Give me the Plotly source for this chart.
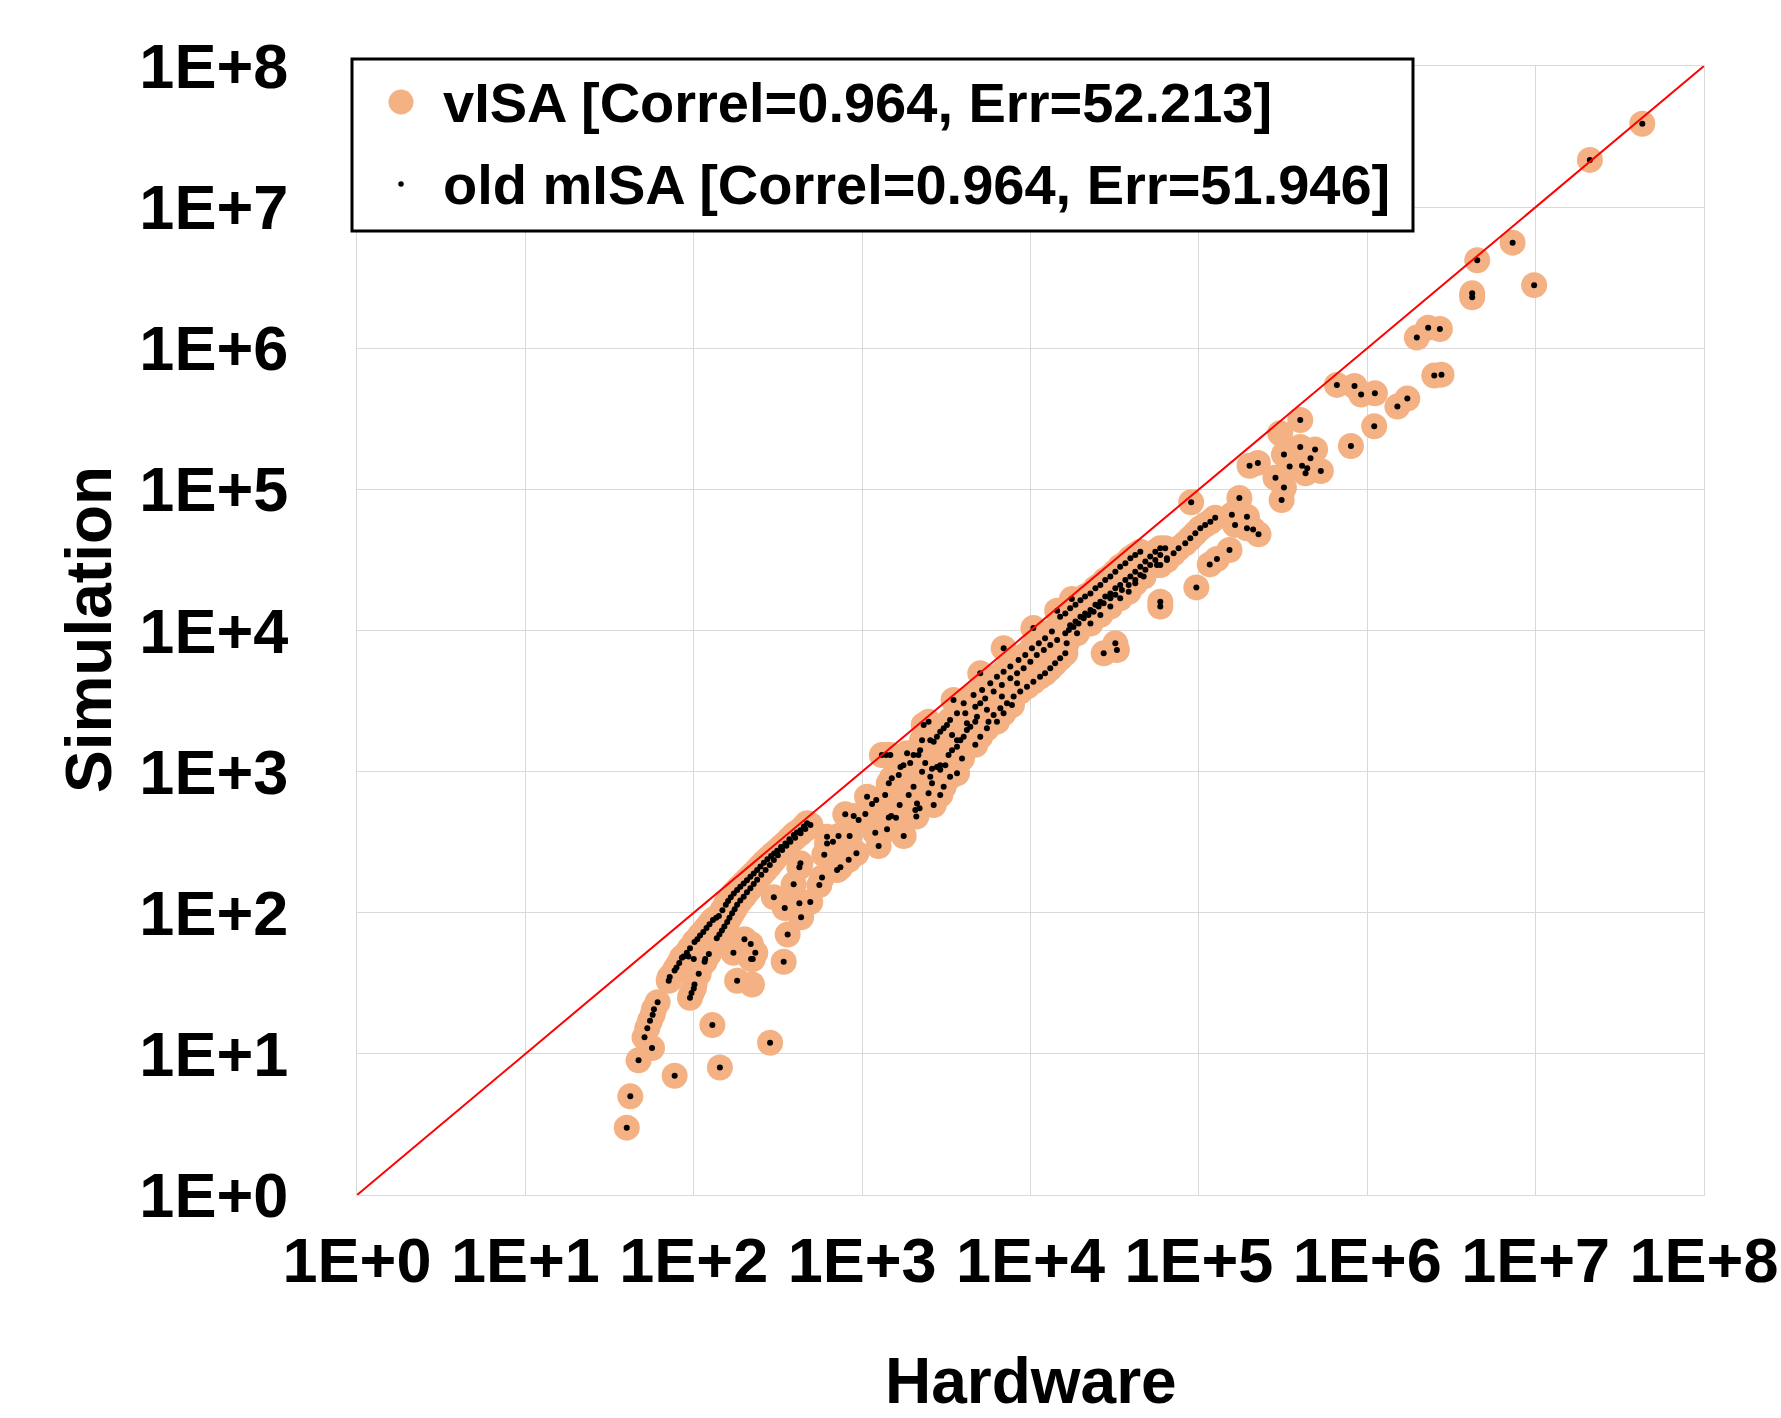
import plotly.graph_objects as go

# ---------------- data (Hardware cycles, Simulation cycles) ----------------
# points below 1E+3 hardware cycles
low_pts = [
    (40, 3.0), (42, 5.0), (47, 9.0), (77, 7.0), (56.5, 11), (51, 13.1), (53, 15.2), (55, 17.2),
    (57, 18.9), (58, 20.7), (61, 23.2), (129, 16), (143, 8.0), (284, 12), (342, 45), (181, 33),
    (172, 52), (200, 65), (218, 60), (232, 52), (219, 47), (224, 47),
    (95, 25), (97, 27), (100, 29), (101, 31), (107, 37), (116, 45), (117, 47), (123, 51),
    (100, 47), (93, 49), (87, 49), (91, 50),
    (71, 33), (72, 35), (77, 39), (79, 41), (82, 44), (85, 48), (91, 52), (95, 56), (101, 62),
    (105, 65), (109, 69), (114, 73), (119, 78), (124, 83), (130, 89), (136, 92), (141, 95),
    (148, 104), (155, 114), (160, 121), (166, 129), (173, 137), (181, 145), (189, 153),
    (198, 161), (207, 170), (217, 180), (227, 190), (238, 201), (249, 213), (261, 226),
    (274, 239), (288, 252), (300, 263), (313, 275), (330, 292), (350, 310), (370, 332),
    (393, 356), (410, 370), (431, 385), (451, 408), (471, 431),
    (137, 66), (142, 70), (147, 75), (152, 80), (158, 86), (163, 92), (169, 99), (175, 106),
    (181, 114), (189, 122), (198, 130), (207, 140), (217, 149), (227, 160), (238, 171),
    (252, 186), (267, 201), (283, 218), (299, 236), (316, 256), (335, 278), (355, 298),
    (375, 318), (400, 340), (431, 366), (460, 392), (493, 419),
    (299, 129), (347, 108), (424, 117), (492, 119), (434, 93), (361, 70), (392, 159),
    (424, 210), (430, 224), (557, 157), (578, 178), (596, 258), (619, 310), (619, 346),
    (671, 318), (724, 350), (843, 350), (710, 201), (743, 210), (832, 237), (925, 264),
    (794, 498), (891, 484), (953, 454),
]

# points between 1E+3 and 1E+4 hardware cycles
mid_pts = [
    (1045, 500), (1146, 589), (1213, 630), (1197, 369), (1253, 297),
    (1406, 390), (1439, 474), (1489, 484), (1589, 471), (1671, 580), (1766, 350),
    (2118, 595), (2193, 550), (2661, 580), (2070, 535), (2099, 480),
    (1310, 1310), (1390, 1310), (1470, 1310),
    (6320, 2260), (4190, 2200), (3660, 2590), (3490, 3220), (3330, 2320), (3190, 2140),
    (3050, 2030), (2910, 1920), (2780, 1770), (2660, 1630), (2540, 1670), (2320, 2140),
    (2480, 2260), (2270, 1670), (2210, 1420), (2160, 1310), (2020, 1310), (1930, 1150),
    (1760, 1110), (1690, 1080), (1850, 1350), (1650, 946), (1500, 897), (1440, 826),
    (1370, 684), (1070, 665), (1890, 684), (2020, 782), (2270, 998), (2370, 1150),
    (2600, 1050), (2540, 920), (2600, 826), (2480, 702), (2910, 684), (3050, 782),
    (2910, 1110), (3120, 1110), (3260, 1310), (3420, 1420), (3660, 1500), (3830, 1670),
    (4010, 1770), (4190, 1970), (4390, 2080), (4700, 2260), (3920, 1240), (3330, 920),
    (3660, 973), (4700, 1550), (5030, 1770), (5510, 2030), (5630, 2260), (2910, 1030),
    (2780, 1080), (3420, 1820), (3660, 1670),
    (4010, 3050), (4590, 3490), (5160, 3790), (5770, 4230), (6320, 4710), (6920, 5110),
    (7590, 5550), (8490, 6180), (9310, 6700),
    (4100, 2590), (4700, 2880), (5380, 3300), (6040, 3690), (6760, 4110), (7590, 4580),
    (8320, 4970), (9100, 5400), (9980, 6010),
    (9530, 4000), (8690, 3690), (7940, 3400), (7250, 3050), (6620, 2810), (6040, 2520),
    (5030, 3050), (5510, 2740), (4810, 2450), (6920, 2590), (7760, 2960), (6760, 3400),
    (8320, 4230), (5030, 4970), (6930, 7480),
]

# points between 1E+4 and 1E+5 hardware cycles
band_pts = [
    (10200, 7480), (11200, 8110), (12200, 8810), (13400, 9820),
    (10900, 6700), (12000, 7280), (13100, 7890), (14400, 8570),
    (10400, 4340), (11400, 4710), (12200, 4980), (13100, 5400), (14000, 5850),
    (15000, 6350), (16100, 6890), (16400, 8110),
    (10400, 10400), (14400, 13800), (17600, 16700),
    (27200, 6890), (31900, 8110), (32600, 7280),
    (95300, 48800), (88900, 45000), (83000, 41500), (75800, 38200), (70800, 35200),
    (64600, 31600), (59000, 29100),
    (44900, 36200), (41900, 34300), (39200, 32500), (36600, 29900), (34100, 28300),
    (31900, 26100), (29800, 24100), (27800, 22800), (26000, 21000), (24300, 19900),
    (22700, 18300), (21100, 17400), (19800, 16400), (18500, 15200), (17200, 14400),
    (16100, 13200), (15000, 12500),
    (59000, 38200), (55100, 36200), (51400, 33400), (48100, 30800), (44900, 28300),
    (41900, 26100), (39200, 24100), (36600, 22800), (34100, 21000), (31900, 19900),
    (29800, 18300), (27800, 17400), (26000, 16000), (24300, 15200), (22700, 14000),
    (21100, 13200), (19800, 12500), (18500, 11600), (17200, 10900),
    (63100, 38200), (59000, 34300), (55100, 31600), (51400, 29100), (48100, 26900),
    (44900, 24700), (41900, 22800), (38300, 21000), (34900, 19400), (31900, 17900),
    (29800, 16900), (27200, 15600), (25400, 14800), (23700, 13600), (22100, 12900),
    (20700, 12200), (19300, 11200), (18000, 10600), (16900, 10100), (16100, 9550),
    (64600, 32500), (56400, 29100), (47000, 24100), (41900, 21600), (38300, 18800),
    (34100, 16900), (29800, 14800), (26000, 12900), (22700, 11200), (18900, 9550),
    (59000, 16000), (59000, 14800), (96600, 20200), (90000, 81000),
]

# points above 1E+5 hardware cycles
high_pts = [
    (4.3e7, 3.9e7), (2.1e7, 2.16e7), (7.3e6, 5.6e6), (4.5e6, 4.2e6), (9.8e6, 2.8e6),
    (4.2e6, 2.45e6), (4.2e6, 2.3e6), (2.3e6, 1.4e6), (2.7e6, 1.37e6), (1.97e6, 1.19e6),
    (2.5e6, 6.4e5), (2.76e6, 6.5e5), (6.6e5, 5.5e5), (8.4e5, 5.4e5), (9.2e5, 4.7e5),
    (1.11e6, 4.8e5), (1.73e6, 4.4e5), (1.51e6, 3.86e5), (1.1e6, 2.8e5), (8.0e5, 2.03e5),
    (4.0e5, 3.1e5), (4.0e5, 2.0e5), (4.9e5, 1.92e5), (3.2e5, 1.77e5), (2.0e5, 1.47e5),
    (2.24e5, 1.54e5), (3.46e5, 1.45e5), (4.1e5, 1.47e5), (4.6e5, 1.66e5), (4.4e5, 1.41e5),
    (4.3e5, 1.3e5), (5.3e5, 1.35e5), (2.85e5, 1.21e5), (3.2e5, 1.03e5), (3.1e5, 8.4e4),
    (1.74e5, 8.7e4), (1.57e5, 6.6e4), (1.64e5, 5.6e4), (1.93e5, 6.4e4), (1.93e5, 5.3e4),
    (2.1e5, 5.2e4), (2.26e5, 4.8e4), (1.25e5, 6.3e4), (1.17e5, 5.9e4), (1.09e5, 5.6e4),
    (1.02e5, 5.3e4), (1.16e5, 2.94e4), (1.28e5, 3.21e4), (1.52e5, 3.72e4),
]

# points that only appear for vISA
visa_only_pts = [(222, 31), (3.04e5, 2.5e5)]

ref_line = [1, 1e8]
tick_vals = [1, 1e1, 1e2, 1e3, 1e4, 1e5, 1e6, 1e7, 1e8]
tick_text = ["1E+0", "1E+1", "1E+2", "1E+3", "1E+4", "1E+5", "1E+6", "1E+7", "1E+8"]

legend_visa = "vISA [Correl=0.964, Err=52.213]"
legend_misa = "old mISA [Correl=0.964, Err=51.946]"

# ---------------- build ----------------
shared = low_pts + mid_pts + band_pts + high_pts
visa = shared + visa_only_pts
hw_visa = [p[0] for p in visa]
sim_visa = [p[1] for p in visa]
hw_misa = [p[0] for p in shared]
sim_misa = [p[1] for p in shared]

FONT = "Liberation Sans, Arial, sans-serif"
ORANGE = "#F4B183"

fig = go.Figure()
fig.add_trace(go.Scatter(x=hw_visa, y=sim_visa, mode="markers", name=legend_visa,
                         marker=dict(color=ORANGE, size=26, line=dict(width=0))))
fig.add_trace(go.Scatter(x=hw_misa, y=sim_misa, mode="markers", name=legend_misa,
                         marker=dict(color="black", size=6, line=dict(width=0))))
fig.add_trace(go.Scatter(x=ref_line, y=ref_line, mode="lines", showlegend=False,
                         line=dict(color="#FF0000", width=2)))

W, H = 1781, 1418
L, R, T, B = 357, 77, 66, 223
PW, PH = W - L - R, H - T - B


def px(xp):
    return (xp - L) / PW


def py(yp):
    return (H - B - yp) / PH


axis_common = dict(
    type="log", range=[0, 8], tickvals=tick_vals, ticktext=tick_text,
    showgrid=True, gridcolor="#d9d9d9", gridwidth=1.3,
    showline=True, linecolor="#d9d9d9", linewidth=1.3, mirror=True,
    zeroline=False, ticks="", automargin=False,
    tickfont=dict(family=FONT, size=63, color="black", weight="bold"),
)

fig.update_layout(
    width=W, height=H,
    margin=dict(l=L, r=R, t=T, b=B, autoexpand=False),
    plot_bgcolor="white", paper_bgcolor="white",
    showlegend=False,
    font=dict(family=FONT, color="black"),
    xaxis=dict(axis_common, ticklabelstandoff=10),
    yaxis=dict(axis_common, ticklabelstandoff=55),
)

# legend box drawn manually
fig.add_shape(type="rect", xref="paper", yref="paper",
              x0=px(352), x1=px(1413), y0=py(231), y1=py(59),
              line=dict(color="black", width=3), fillcolor="white", layer="above")
fig.add_shape(type="circle", xref="paper", yref="paper", xsizemode="pixel", ysizemode="pixel",
              xanchor=px(401), yanchor=py(102), x0=-12.5, x1=12.5, y0=-12.5, y1=12.5,
              fillcolor=ORANGE, line=dict(width=0), layer="above")
fig.add_shape(type="circle", xref="paper", yref="paper", xsizemode="pixel", ysizemode="pixel",
              xanchor=px(401), yanchor=py(184), x0=-2.75, x1=2.75, y0=-2.75, y1=2.75,
              fillcolor="black", line=dict(width=0), layer="above")
fig.add_annotation(text=legend_visa, xref="paper", yref="paper", x=px(441), y=py(102),
                   xanchor="left", yanchor="middle", showarrow=False,
                   font=dict(family=FONT, size=56, color="black", weight="bold"))
fig.add_annotation(text=legend_misa, xref="paper", yref="paper", x=px(441), y=py(184),
                   xanchor="left", yanchor="middle", showarrow=False,
                   font=dict(family=FONT, size=56, color="black", weight="bold"))

# axis titles
fig.add_annotation(text="Hardware", xref="paper", yref="paper", x=px(1031), y=py(1381),
                   xanchor="center", yanchor="middle", showarrow=False,
                   font=dict(family=FONT, size=64, color="black", weight="bold"))
fig.add_annotation(text="Simulation", xref="paper", yref="paper", x=px(89), y=py(630),
                   xanchor="center", yanchor="middle", showarrow=False, textangle=-90,
                   font=dict(family=FONT, size=64, color="black", weight="bold"))

fig.write_html("out.html", config={"displayModeBar": False},
               post_script="document.body.style.margin='0px';")
